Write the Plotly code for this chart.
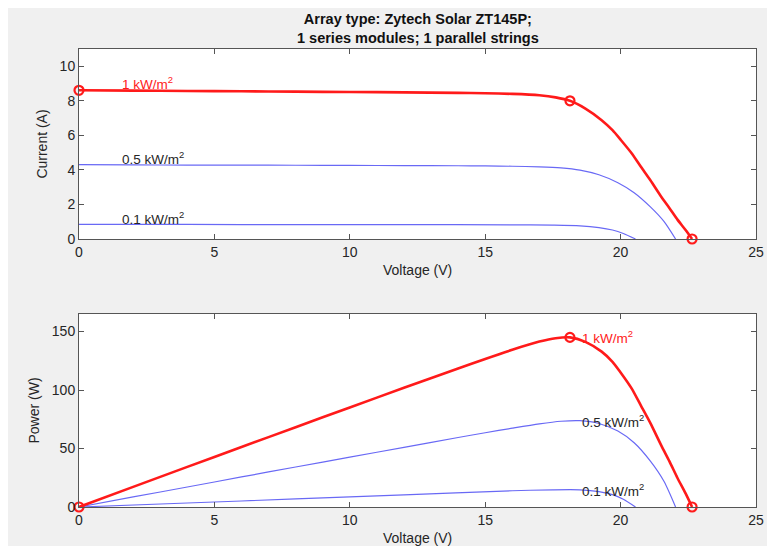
import plotly.graph_objects as go

# ---- data ----
# 1 kW/m^2 (red)
v_1k = [0, 2, 4, 6, 8, 10, 12, 14, 15, 16, 17, 17.6, 18.13, 18.7, 19.3, 19.7, 20.0, 20.4, 20.75, 21.1, 21.5, 21.8, 22.1, 22.4, 22.64]
i_1k = [8.61, 8.59, 8.57, 8.55, 8.53, 8.51, 8.49, 8.46, 8.44, 8.40, 8.32, 8.20, 8.00, 7.55, 6.88, 6.30, 5.75, 4.98, 4.18, 3.40, 2.45, 1.80, 1.12, 0.52, 0.0]
p_1k = [0, 17.2, 34.3, 51.3, 68.2, 85.1, 101.9, 118.4, 126.6, 134.4, 141.4, 144.3, 145.0, 141.2, 132.8, 124.1, 115.0, 101.6, 86.7, 71.7, 52.7, 39.2, 24.8, 11.6, 0.0]

# 0.5 kW/m^2 (blue)
v_05 = [0, 2, 4, 6, 8, 10, 12, 14, 15, 16, 17, 17.8, 18.5, 19.2, 19.9, 20.5, 21.1, 21.6, 22.03]
i_05 = [4.30, 4.29, 4.28, 4.28, 4.27, 4.26, 4.25, 4.24, 4.23, 4.21, 4.18, 4.12, 3.99, 3.72, 3.26, 2.68, 1.86, 1.02, 0.0]
p_05 = [0, 8.6, 17.1, 25.7, 34.2, 42.6, 51.0, 59.4, 63.5, 67.4, 71.1, 73.3, 73.8, 71.4, 64.9, 54.9, 39.2, 22.0, 0.0]

# 0.1 kW/m^2 (blue)
v_01 = [0, 4, 8, 12, 16, 17.5, 18.5, 19.2, 19.7, 20.1, 20.55]
i_01 = [0.84, 0.84, 0.83, 0.83, 0.82, 0.80, 0.76, 0.66, 0.52, 0.32, 0.0]
p_01 = [0, 3.4, 6.9, 10.4, 13.9, 14.7, 14.7, 13.2, 10.6, 6.6, 0.0]

# key points (Isc, MPP, Voc) of the 1 kW/m^2 curve
key_v = [0, 18.13, 22.64]
key_i = [8.61, 8.00, 0.0]
key_p = [0, 145.0, 0.0]

labels = ["1 kW/m<sup>2</sup>", "0.5 kW/m<sup>2</sup>", "0.1 kW/m<sup>2</sup>"]
label_i = [8.61, 4.28, 0.82]
label_p = [145.0, 73.6, 14.7]

x_ticks = [0, 5, 10, 15, 20, 25]
i_ticks = [0, 2, 4, 6, 8, 10]
p_ticks = [0, 50, 100, 150]

title_lines = ["Array type: Zytech Solar ZT145P;", "1 series modules; 1 parallel strings"]

RED = "#ff1a1a"
BLUE = "rgb(105,105,245)"
AX = "#262626"

fig = go.Figure()

def add_curve(v, y, color, width, yaxis):
    fig.add_trace(go.Scatter(x=v, y=y, mode="lines", line=dict(color=color, width=width, shape="spline", smoothing=0.7),
                             xaxis="x" if yaxis == "y" else "x2", yaxis=yaxis, showlegend=False, hoverinfo="skip"))

add_curve(v_01, i_01, BLUE, 1.2, "y")
add_curve(v_05, i_05, BLUE, 1.2, "y")
add_curve(v_1k, i_1k, RED, 2.6, "y")
add_curve(v_01, p_01, BLUE, 1.2, "y2")
add_curve(v_05, p_05, BLUE, 1.2, "y2")
add_curve(v_1k, p_1k, RED, 2.6, "y2")

marker = dict(symbol="circle-open", size=9, color=RED, line=dict(width=2.2, color=RED))
fig.add_trace(go.Scatter(x=key_v, y=key_i, mode="markers", marker=marker, xaxis="x", yaxis="y", showlegend=False, cliponaxis=False))
fig.add_trace(go.Scatter(x=key_v, y=key_p, mode="markers", marker=marker, xaxis="x2", yaxis="y2", showlegend=False, cliponaxis=False))

FAM = "Liberation Sans, Arial, sans-serif"
font = dict(family=FAM, size=14, color=AX)
annotations = []
colors = [RED, AX, AX]
for k in range(3):
    annotations.append(dict(x=1.5, y=label_i[k], xref="x", yref="y", text=labels[k], showarrow=False,
                            xanchor="left", yanchor="bottom", yshift=-4,
                            font=dict(family=FAM, size=13.5, color=colors[k])))
    annotations.append(dict(x=18.5, y=label_p[k], xref="x2", yref="y2", text=labels[k], showarrow=False,
                            xanchor="left", yanchor="middle",
                            font=dict(family=FAM, size=13.5, color=colors[k])))
annotations.append(dict(x=0.5, y=1.0, xref="paper", yref="paper", yshift=1, xanchor="center", yanchor="bottom",
                        showarrow=False, text="<b>" + title_lines[0] + "</b><br><b>" + title_lines[1] + "</b>",
                        font=dict(family=FAM, size=14.5, color="#111111")))
annotations.append(dict(x=0.5, y=0.5852, xref="paper", yref="paper", yshift=-21, xanchor="center", yanchor="top",
                        showarrow=False, text="Voltage (V)", font=font))
annotations.append(dict(x=0.5, y=0.0, xref="paper", yref="paper", yshift=-21, xanchor="center", yanchor="top",
                        showarrow=False, text="Voltage (V)", font=font))

axis_common = dict(showgrid=False, zeroline=False, showline=True, linecolor="#555555", linewidth=1, mirror="ticks",
                   ticks="inside", ticklen=5, tickcolor="#555555", tickfont=font)

# page body has an 8px margin, so the figure is sized/offset to place the axes like the reference
fig.update_layout(
    width=767, height=538,
    margin=dict(l=71, r=11, t=41, b=39),
    paper_bgcolor="#f0f0f0", plot_bgcolor="white",
    showlegend=False,
    annotations=annotations,
    xaxis=dict(domain=[0, 1], anchor="y", range=[0, 25], tickvals=x_ticks, **axis_common),
    yaxis=dict(domain=[0.5852, 1.0], anchor="x", range=[0, 11], tickvals=i_ticks,
               title=dict(text="Current (A)", font=font, standoff=8), **axis_common),
    xaxis2=dict(domain=[0, 1], anchor="y2", range=[0, 25], tickvals=x_ticks, **axis_common),
    yaxis2=dict(domain=[0, 0.4214], anchor="x2", range=[0, 165], tickvals=p_ticks,
                title=dict(text="Power (W)", font=font, standoff=8), **axis_common),
)

fig.write_html("out.html")
